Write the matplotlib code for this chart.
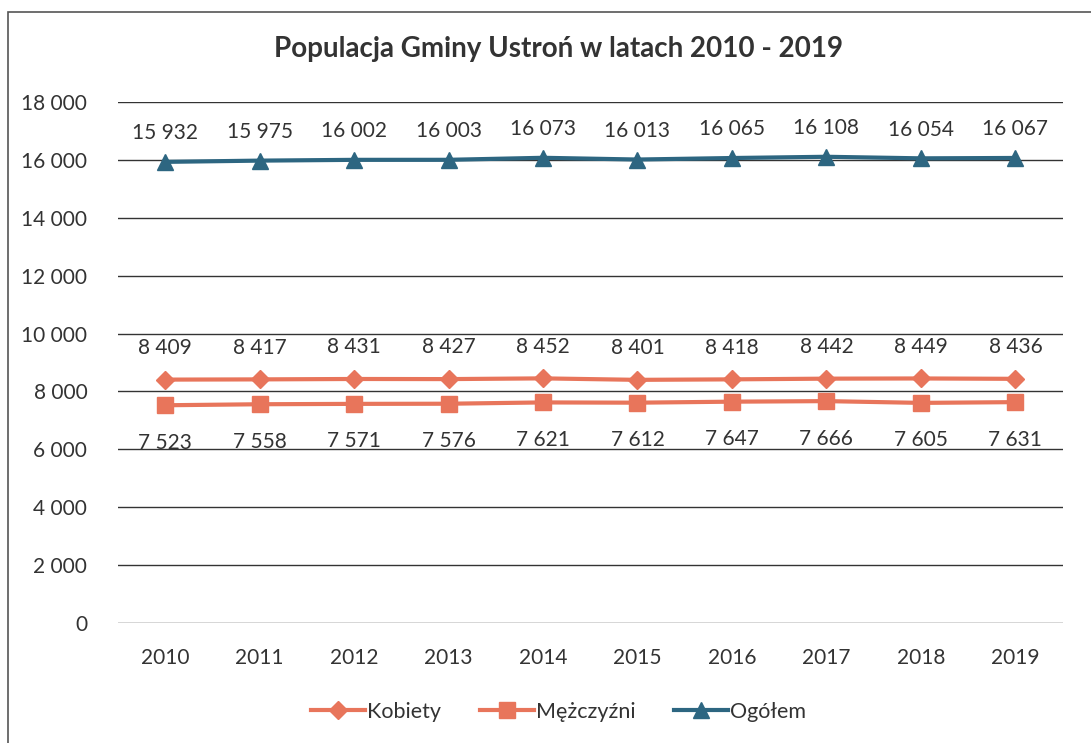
import numpy as np
import matplotlib.pyplot as plt
from matplotlib.patches import Rectangle

plt.rcParams['font.family'] = ['Lato', 'DejaVu Sans']

years = ['2010', '2011', '2012', '2013', '2014', '2015', '2016', '2017', '2018', '2019']
kobiety = [8409, 8417, 8431, 8427, 8452, 8401, 8418, 8442, 8449, 8436]
mezczyzni = [7523, 7558, 7571, 7576, 7621, 7612, 7647, 7666, 7605, 7631]
ogolem = [15932, 15975, 16002, 16003, 16073, 16013, 16065, 16108, 16054, 16067]

c_orange = '#E8755B'
c_blue = '#2D6681'
txt = '#333333'


def fmt(v):
    return '{:,}'.format(v).replace(',', ' ')


fig = plt.figure(figsize=(10.91, 7.43), dpi=100)
ax = fig.add_axes([0.108, 0.1615, 0.866, 0.7012])

# frame around the chart (cut off at the right and bottom in the scan)
fig.patches.append(Rectangle((8 / 1091, -0.05), 1.2, 1 - 12 / 743 + 0.05,
                             transform=fig.transFigure, fill=False,
                             edgecolor='#555555', linewidth=1.2))

x = np.arange(len(years))
ax.plot(x, kobiety, color=c_orange, lw=3, marker='D', ms=9, label='Kobiety')
ax.plot(x, mezczyzni, color=c_orange, lw=3, marker='s', ms=11, label='Mężczyźni')
ax.plot(x, ogolem, color=c_blue, lw=3, marker='^', ms=11, label='Ogółem')

for i in x:
    ax.text(i, ogolem[i] + 650, fmt(ogolem[i]), ha='center', va='bottom', fontsize=15, color=txt)
    ax.text(i, kobiety[i] + 750, fmt(kobiety[i]), ha='center', va='bottom', fontsize=15, color=txt)
    ax.text(i, mezczyzni[i] - 950, fmt(mezczyzni[i]), ha='center', va='top', fontsize=15, color=txt)

ax.set_xlim(-0.5, 9.5)
ax.set_ylim(0, 18000)
ax.set_yticks(np.arange(0, 18001, 2000))
ax.set_yticklabels([fmt(v) for v in range(0, 18001, 2000)])
ax.set_xticks(x)
ax.set_xticklabels(years)
ax.tick_params(length=0, labelsize=15, colors=txt)
ax.tick_params(axis='y', pad=22)
ax.tick_params(axis='x', pad=18)
ax.grid(axis='y', color='#333333', lw=1.0, ls='-')
ax.set_axisbelow(True)
for s in ax.spines.values():
    s.set_visible(False)

fig.suptitle('Populacja Gminy Ustroń w latach 2010 - 2019', x=0.512, y=0.952,
             fontsize=20, fontweight='bold', color=txt)
fig.legend(loc='center', bbox_to_anchor=(0.512, 0.042), ncol=3, frameon=False,
           fontsize=15.5, handlelength=2.5, columnspacing=1.8, handletextpad=0.1,
           labelcolor=txt)

fig.savefig('out.png', dpi=100)
